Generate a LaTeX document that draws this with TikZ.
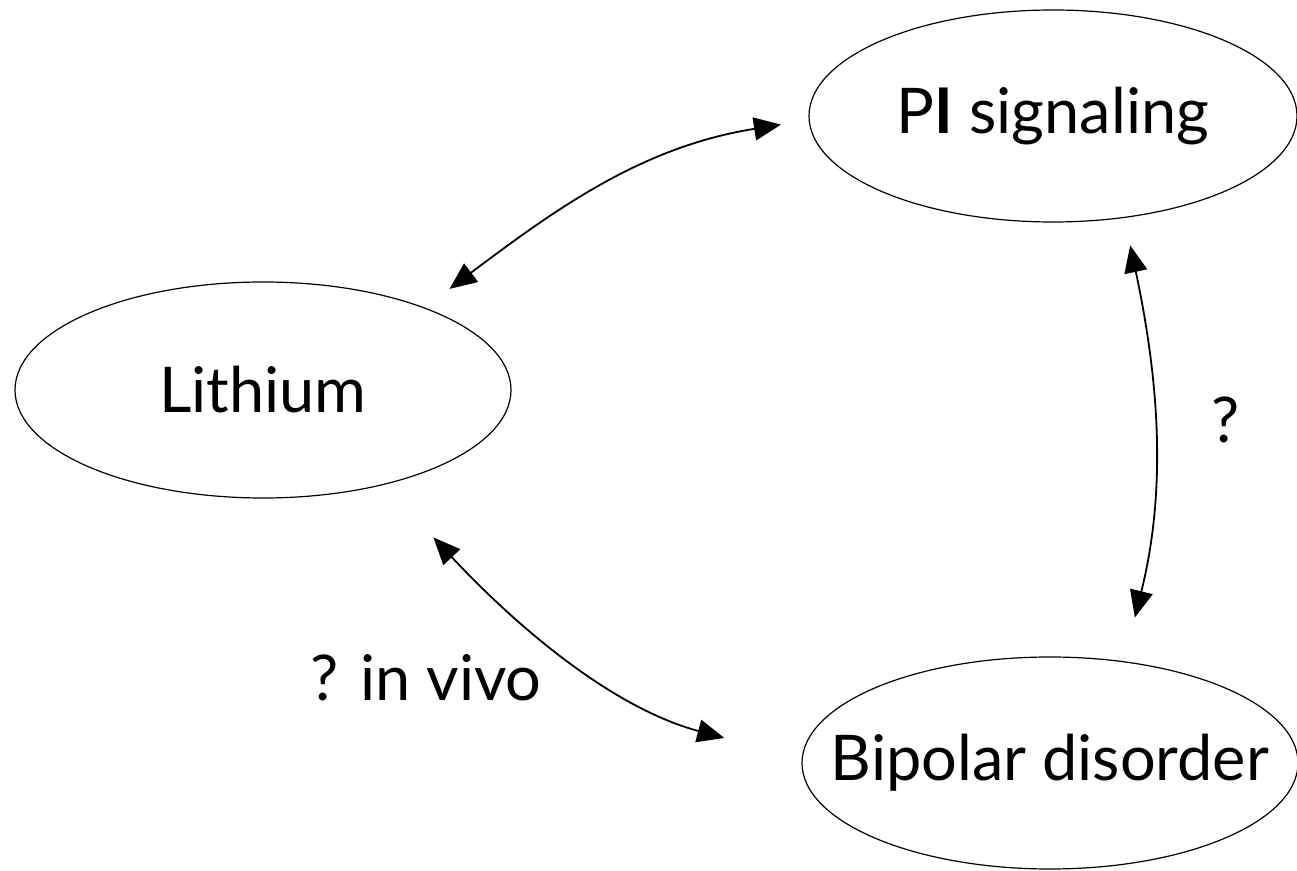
\documentclass[tikz,border=0pt]{standalone}
\usepackage{fontspec}
\setmainfont{Lato}
\usetikzlibrary{shapes}
\usetikzlibrary{arrows.meta}
\usetikzlibrary{positioning}
\tikzset{bubble/.style={draw=black,ellipse,line width=1.2pt,inner xsep=-70pt,inner ysep=0pt,font=\fontsize{63}{76}\selectfont}}
\tikzset{line/.style={black,line width=1.8pt,>={Triangle[length=27pt,width=23pt]}}}
\tikzset{lbl/.style={inner sep=0pt,font=\fontsize{63}{76}\selectfont}}

\begin{document}
\begin{tikzpicture}[x=1pt,y=1pt]
        \useasboundingbox (0,0) rectangle (1297,870);
        \node[bubble,minimum width=496pt,minimum height=216pt] (li) at (263,480) {Lithium};
        \node[bubble,minimum width=488pt,minimum height=212pt] (pi) at (1053,754) {P\textbf{I} signaling};
        \node[bubble,minimum width=496pt,minimum height=212pt] (bd) at (1050,107) {Bipolar disorder};
        \node[lbl] (q1) at (1226,450) {?};
        \node[lbl] (q2) at (426,192) {? in vivo};
        \draw[line,<->,shorten <=31pt,shorten >=28pt] (li.27.6) to[out=37,in=189] (pi.181);
        \draw[line,<->,shorten <=28pt,shorten >=45pt] (pi.-55) to[out=-78,in=76] (bd.54);
        \draw[line,<->,shorten <=72pt,shorten >=80pt] (li.-38) to[out=-47,in=165] (bd.179);
      \end{tikzpicture}
\end{document}
